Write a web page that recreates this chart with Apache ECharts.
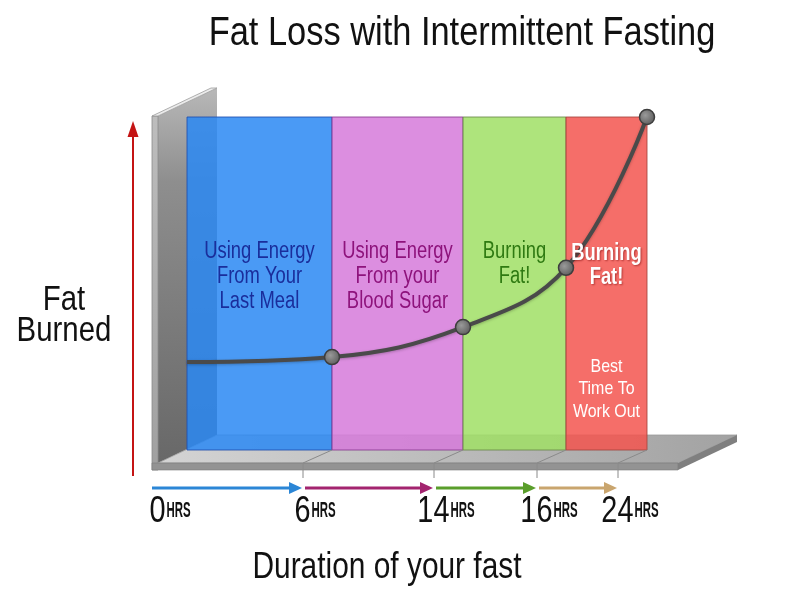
<!DOCTYPE html>
<html><head><meta charset="utf-8">
<script src="https://cdn.jsdelivr.net/npm/echarts@6/dist/echarts.min.js"></script>
<style>html,body{margin:0;padding:0;background:#fff}#c{width:800px;height:600px}</style>
</head><body><div id="c"></div>
<script>
// ---------- data ----------
const chartTitle = 'Fat Loss with Intermittent Fasting';
const yAxisTitle = ['Fat', 'Burned'];
const xAxisTitle = 'Duration of your fast';
const hours = [0, 6, 14, 16, 24];                 // stage boundaries (hours of fasting)
const hourLabels = ['0', '6', '14', '16', '24'];
const hourUnit = 'HRS';
const fatBurned = [26.4, 27.9, 36.9, 54.7, 100];  // relative fat burned at each boundary
const stageLabels = [
  ['Using Energy', 'From Your', 'Last Meal'],
  ['Using Energy', 'From your', 'Blood Sugar'],
  ['Burning', 'Fat!'],
  ['Burning', 'Fat!']
];
const stageNotes = [null, null, null, ['Best', 'Time To', 'Work Out']];

// ---------- layout / style ----------
const FONT = '"Liberation Sans", Arial, sans-serif';
const stageSpan = [145, 131, 103, 81];   // drawn (non-linear) width of each stage band
const edgePos = [0];
stageSpan.forEach((w, i) => edgePos.push(edgePos[i] + w));
function hourToPos(h) {
  for (let i = 0; i < hours.length - 1; i++) {
    if (h <= hours[i + 1]) return edgePos[i] + (h - hours[i]) / (hours[i + 1] - hours[i]) * stageSpan[i];
  }
  return edgePos[edgePos.length - 1];
}
const bandColors = ['#2a88f3', '#d67adb', '#a0df65', '#f3554f'];
const bandBorders = ['#1f4fae', '#8a3a8f', '#6a8a4a', '#a5443e'];
const textColors = ['#1a2e9c', '#8e137c', '#2f7a12', '#ffffff'];
const arrowColors = ['#2b86d6', '#a3246f', '#5a9e2b', '#c9a56e'];

const G = { left: 187, top: 117, width: 460, height: 333 };

const chart = echarts.init(document.getElementById('c'), null, { renderer: 'canvas' });

const markAreaData = stageLabels.map((lines, i) => [
  { xAxis: hourToPos(hours[i]),
    itemStyle: { color: bandColors[i], opacity: 0.85, borderColor: bandBorders[i], borderWidth: 1 } },
  { xAxis: hourToPos(hours[i + 1]) }
]);

const lineData = hours.map((h, i) => {
  const d = { value: [hourToPos(h), fatBurned[i]] };
  if (i === 0) d.symbol = 'none';
  return d;
});

chart.setOption({
  animation: false,
  grid: { left: G.left, top: G.top, width: G.width, height: G.height },
  xAxis: { type: 'value', min: 0, max: edgePos[edgePos.length - 1], show: false },
  yAxis: { type: 'value', min: 0, max: 100, show: false },
  series: [{
    type: 'line',
    data: lineData,
    smooth: 0.4,
    z: 5,
    symbol: 'circle',
    symbolSize: 15,
    lineStyle: { color: '#4a4a4a', width: 4, shadowColor: 'rgba(0,0,0,0.25)', shadowBlur: 3, shadowOffsetY: 1 },
    itemStyle: {
      color: { type: 'radial', x: 0.4, y: 0.4, r: 0.6, colorStops: [{ offset: 0, color: '#9a9a9a' }, { offset: 1, color: '#5e5e5e' }] },
      borderColor: '#3e3e3e', borderWidth: 1.5
    },
    markArea: { silent: true, label: { show: false }, data: markAreaData }
  }]
});

// ---------- decorations placed through the chart's own scale ----------
const px = p => chart.convertToPixel({ gridIndex: 0 }, [p, 0]);
const gl = G.left, gt = G.top, gb = G.top + G.height, gr = G.left + G.width;
const DX = -29, DY = 13;   // perspective offset from band floor to the axis ticks

const ctx = document.createElement('canvas').getContext('2d');
function measure(text, size, weight) {
  ctx.font = (weight || 'normal') + ' ' + size + 'px ' + FONT;
  return ctx.measureText(text).width;
}
function txt(x, y, text, size, sx, color, extra) {
  return Object.assign({ type: 'text', z: 50, x: x, y: y, scaleX: sx, scaleY: 1,
    style: Object.assign({ text: text, align: 'center', verticalAlign: 'middle', fontFamily: FONT, fontSize: size, fill: color }, extra || {}) });
}

const els = [];
// back wall
els.push({ type: 'polygon', z: 0, shape: { points: [[gl - 29, gt - 1], [gl + 30, gt - 29], [gl + 30, gb - 15], [gl - 29, gb + 13]] },
  style: { fill: { type: 'linear', x: 0, y: 0, x2: 0, y2: 1, colorStops: [{ offset: 0, color: '#b8b8b8' }, { offset: 0.25, color: '#8e8e8e' }, { offset: 1, color: '#686868' }] } } });
els.push({ type: 'rect', z: 0, shape: { x: gl - 35, y: gt - 1, width: 6, height: gb + 20 - gt + 1 },
  style: { fill: { type: 'linear', x: 0, y: 0, x2: 0, y2: 1, colorStops: [{ offset: 0, color: '#bdbdbd' }, { offset: 1, color: '#a0a0a0' }] }, stroke: '#8a8a8a', lineWidth: 0.8 } });
els.push({ type: 'polygon', z: 0, shape: { points: [[gl - 35, gt - 1], [gl + 24, gt - 29], [gl + 30, gt - 29], [gl - 29, gt - 1]] },
  style: { fill: '#ececec', stroke: '#9c9c9c', lineWidth: 0.8 } });
// floor
els.push({ type: 'polygon', z: 0, shape: { points: [[gl - 29, gb + 13], [gl + 30, gb - 15], [gr + 90, gb - 15], [gr + 31, gb + 13]] },
  style: { fill: { type: 'linear', x: 0, y: 0, x2: 1, y2: 0, colorStops: [{ offset: 0, color: '#d4d4d4' }, { offset: 1, color: '#a2a2a2' }] }, stroke: '#9a9a9a', lineWidth: 0.8 } });
els.push({ type: 'rect', z: 0, shape: { x: gl - 35, y: gb + 13, width: gr + 31 - (gl - 35), height: 7 },
  style: { fill: '#939393', stroke: '#7a7a7a', lineWidth: 0.6 } });
els.push({ type: 'polygon', z: 0, shape: { points: [[gr + 31, gb + 13], [gr + 90, gb - 15], [gr + 90, gb - 8], [gr + 31, gb + 20]] },
  style: { fill: '#7f7f7f' } });

// ticks, arrows, hour labels
const tickX = hours.map(h => px(hourToPos(h))[0] + DX);
for (let i = 1; i < hours.length; i++) {
  const ex = px(hourToPos(hours[i]))[0];
  els.push({ type: 'polyline', z: 50, shape: { points: [[ex, gb], [ex + DX, gb + DY], [ex + DX, gb + 28]] },
    style: { stroke: '#8a8a8a', lineWidth: 1, fill: null } });
}
const ay = 488;
for (let i = 0; i < hours.length - 1; i++) {
  const x0 = tickX[i] + (i === 0 ? -6 : 2), x1 = tickX[i + 1] - 1;
  els.push({ type: 'line', z: 50, shape: { x1: x0, y1: ay, x2: x1 - 10, y2: ay }, style: { stroke: arrowColors[i], lineWidth: 3 } });
  els.push({ type: 'polygon', z: 50, shape: { points: [[x1 - 13, ay - 6], [x1, ay], [x1 - 13, ay + 6]] }, style: { fill: arrowColors[i] } });
}
const DS = 0.78, US = 0.52, DF = 37, UF = 22;
hours.forEach((h, i) => {
  const dw = measure(hourLabels[i], DF) * DS;
  const uw = measure(hourUnit, UF, 'bold') * US;
  const total = dw + 1 + uw;
  const cx = tickX[i] + 12;
  const x0 = cx - total / 2;
  els.push(txt(x0, 511.5, hourLabels[i], DF, DS, '#111', { align: 'left' }));
  els.push(txt(x0 + dw + 1, 511, hourUnit, UF, US, '#111', { align: 'left', fontWeight: 'bold' }));
});

// stage texts (centered in each band)
const textY = [277, 277, 264.5, 266];
stageLabels.forEach((lines, i) => {
  const cx = (px(hourToPos(hours[i]))[0] + px(hourToPos(hours[i + 1]))[0]) / 2;
  if (stageNotes[i]) {
    els.push(txt(cx, textY[i], lines.join('\n'), 23, 0.8, '#fff',
      { fontWeight: 'bold', lineHeight: 24, textShadowColor: 'rgba(110,0,0,0.5)', textShadowBlur: 2, textShadowOffsetX: 1, textShadowOffsetY: 1 }));
    els.push(txt(cx, 389, stageNotes[i].join('\n'), 19, 0.84, '#fff', { lineHeight: 22.5 }));
  } else {
    els.push(txt(cx, textY[i], lines.join('\n'), 23, 0.8, textColors[i], { lineHeight: 25 }));
  }
});

// red y arrow
els.push({ type: 'line', z: 50, shape: { x1: 133, y1: 476, x2: 133, y2: 134 }, style: { stroke: '#c41414', lineWidth: 2 } });
els.push({ type: 'polygon', z: 50, shape: { points: [[127.5, 137], [133, 121], [138.5, 137]] }, style: { fill: '#c41414' } });

// titles
els.push(txt(462, 34, chartTitle, 40, 0.86, '#111'));
els.push(txt(64, 316, yAxisTitle.join('\n'), 35, 0.84, '#111', { lineHeight: 31 }));
els.push(txt(387, 568, xAxisTitle, 36, 0.83, '#111'));

chart.setOption({ graphic: { elements: els } });
</script></body></html>
